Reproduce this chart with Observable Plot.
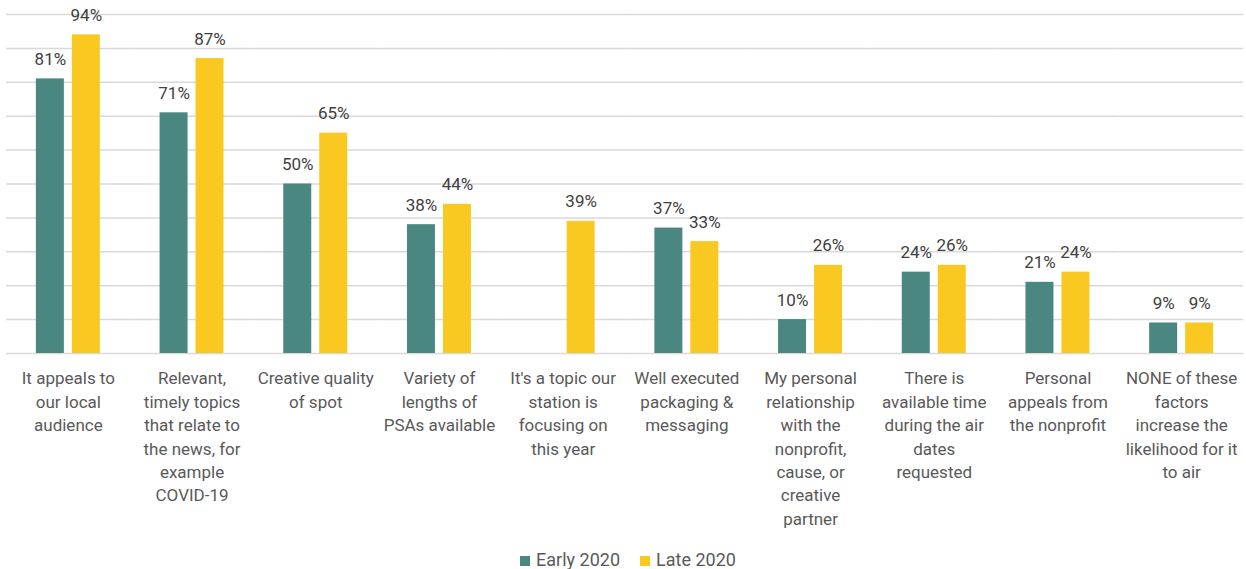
<!DOCTYPE html>
<html>
<head>
<meta charset="utf-8">
<script src="https://cdn.jsdelivr.net/npm/d3@7"></script>
<script src="https://cdn.jsdelivr.net/npm/@observablehq/plot@0.6"></script>
<style>
  html, body { margin: 0; padding: 0; background: #fff; }
  body { width: 1246px; height: 569px; overflow: hidden; font-family: Roboto, sans-serif; }
  #legend { display: flex; justify-content: center; gap: 20px; height: 18px; line-height: 18px; font-size: 18px; color: #595959; padding-left: 10px; }
  #legend span.sw { display: inline-block; width: 10px; height: 10px; margin-right: 6px; vertical-align: 0px; }
</style>
</head>
<body>
<div id="chart"></div>
<div id="legend"></div>
<script>
const categories = [
  "It appeals to our local audience",
  "Relevant, timely topics that relate to the news, for example COVID-19",
  "Creative quality of spot",
  "Variety of lengths of PSAs available",
  "It's a topic our station is focusing on this year",
  "Well executed packaging & messaging",
  "My personal relationship with the nonprofit, cause, or creative partner",
  "There is available time during the air dates requested",
  "Personal appeals from the nonprofit",
  "NONE of these factors increase the likelihood for it to air"
];
const categoryLines = [
  "It appeals to\nour local\naudience",
  "Relevant,\ntimely topics\nthat relate to\nthe news, for\nexample\nCOVID-19",
  "Creative quality\nof spot",
  "Variety of\nlengths of\nPSAs available",
  "It's a topic our\nstation is\nfocusing on\nthis year",
  "Well executed\npackaging &\nmessaging",
  "My personal\nrelationship\nwith the\nnonprofit,\ncause, or\ncreative\npartner",
  "There is\navailable time\nduring the air\ndates\nrequested",
  "Personal\nappeals from\nthe nonprofit",
  "NONE of these\nfactors\nincrease the\nlikelihood for it\nto air"
];
const series = ["Early 2020", "Late 2020"];
const early2020 = [81, 71, 50, 38, null, 37, 10, 24, 21, 9];
const late2020 = [94, 87, 65, 44, 39, 33, 26, 26, 24, 9];
const gridTicks = [0, 10, 20, 30, 40, 50, 60, 70, 80, 90, 100];
const colors = ["#4A8780", "#F9C922"];

const data = [];
categories.forEach((c, i) => {
  if (early2020[i] != null) data.push({category: c, series: series[0], value: early2020[i]});
  if (late2020[i] != null) data.push({category: c, series: series[1], value: late2020[i]});
});
const lineMap = new Map(categories.map((c, i) => [c, categoryLines[i]]));

const chart = Plot.plot({
  width: 1246,
  height: 551,
  marginLeft: 6,
  marginRight: 3,
  marginTop: 14,
  marginBottom: 198,
  style: {fontFamily: "Roboto, sans-serif", color: "#595959", background: "#fff"},
  fx: {domain: categories, padding: 0, round: false, label: null},
  x: {domain: series, paddingInner: 0.222, paddingOuter: 0.83, round: false, axis: null},
  y: {domain: [0, 100], axis: null},
  color: {domain: series, range: colors},
  marks: [
    Plot.ruleY(gridTicks, {stroke: "#d9d9d9", strokeWidth: 1.5}),
    Plot.barY(data, {fx: "category", x: "series", y: "value", fill: "series"}),
    Plot.text(data, {fx: "category", x: "series", y: "value", text: d => d.value + "%",
      dy: -14, lineAnchor: "bottom", fontSize: 17, fill: "#404040"}),
    Plot.axisFx({anchor: "bottom", tickSize: 0, tickPadding: 14, label: null,
      tickFormat: d => lineMap.get(d), fontSize: 17, lineHeight: 1.38, fill: "#595959"})
  ]
});
document.getElementById("chart").appendChild(chart);

const legend = document.getElementById("legend");
series.forEach((s, i) => {
  const item = document.createElement("div");
  item.innerHTML = `<span class="sw" style="background:${colors[i]}"></span>${s}`;
  legend.appendChild(item);
});
</script>
</body>
</html>
